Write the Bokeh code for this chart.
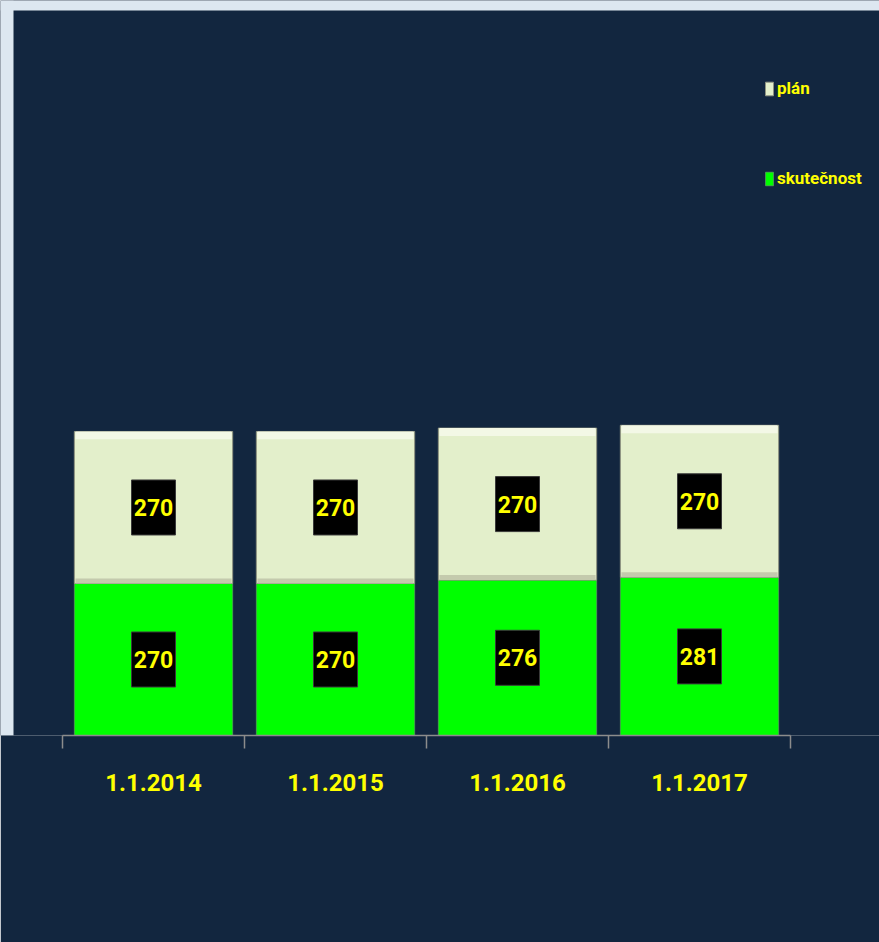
from bokeh.plotting import figure
from bokeh.models import Range1d, FixedTicker, Legend, LegendItem, ColumnDataSource, BoxAnnotation
from bokeh.core.properties import value
from bokeh.embed import file_html
from bokeh.resources import INLINE

# ---- data ----
categories = ["1.1.2014", "1.1.2015", "1.1.2016", "1.1.2017"]
skutecnost = [270, 270, 276, 281]
plan = [270, 270, 270, 270]
series_names = ["plán", "skutečnost"]

NAVY = "#12263F"
LIGHT = "#DDE7F0"
GREEN = "#00FF00"
PLAN_FILL = "#E3EFCB"
YELLOW = "#FFFF00"
FONT = "Roboto"

x = [i + 0.5 for i in range(len(categories))]
total = [s + q for s, q in zip(skutecnost, plan)]

src = ColumnDataSource(dict(
    x=x,
    s=skutecnost,
    p=plan,
    total=total,
    s_mid=[v / 2 for v in skutecnost],
    p_mid=[s + q / 2 for s, q in zip(skutecnost, plan)],
    s_lbl=[str(v) for v in skutecnost],
    p_lbl=[str(v) for v in plan],
    hi_bot=[t - 14 for t in total],
    lo_top=[s + 9 for s in skutecnost],
))

p = figure(width=879, height=942,
           x_range=Range1d(-0.3407, 4.489), y_range=Range1d(0, 1305.5),
           output_backend="svg", toolbar_location=None,
           y_axis_location=None,
           min_border_left=0, min_border_right=0,
           min_border_top=0, min_border_bottom=207)

p.background_fill_color = NAVY
p.border_fill_color = NAVY
p.outline_line_color = None
p.xgrid.visible = False
p.ygrid.visible = False

# light page strips around the dark panel
p.add_layout(BoxAnnotation(right=13, right_units="screen", fill_color=LIGHT,
                           fill_alpha=1, line_color=None, level="underlay"))
p.add_layout(BoxAnnotation(bottom=1287.7, fill_color=LIGHT, fill_alpha=1,
                           line_color=None, level="underlay"))

W = 0.87
r_s = p.vbar(x="x", bottom=0, top="s", width=W, source=src,
             fill_color=GREEN, line_color="#6f9a6f", line_width=0.6)
r_p = p.vbar(x="x", bottom="s", top="total", width=W, source=src,
             fill_color=PLAN_FILL, line_color="#8E9280", line_width=1)
# bevel shading on plan bars
p.vbar(x="x", bottom="hi_bot", top="total", width=W - 0.012, source=src,
       fill_color="#F3F8E6", line_color=None)
p.vbar(x="x", bottom="s", top="lo_top", width=W - 0.012, source=src,
       fill_color="#C4CAAD", line_color=None)

# label boxes
for ycol, tcol in (("s_mid", "s_lbl"), ("p_mid", "p_lbl")):
    p.rect(x="x", y=ycol, width=44, height=55, width_units="screen",
           height_units="screen", source=src, fill_color="black",
           line_color="#3a3a3a", line_width=1)
    p.text(x="x", y=ycol, text=tcol, source=src, text_color=YELLOW,
           text_font=value(FONT), text_font_style="bold",
           text_font_size="23px", text_align="center",
           text_baseline="middle")

# x axis: labels at centres, ticks at boundaries
ax = p.xaxis[0]
ax.bounds = (0, len(categories))
ax.ticker = FixedTicker(ticks=x, minor_ticks=list(range(len(categories) + 1)))
ax.major_label_overrides = {xv: c for xv, c in zip(x, categories)}
ax.major_tick_out = 0
ax.major_tick_in = 0
ax.minor_tick_out = 13
ax.minor_tick_in = 0
ax.minor_tick_line_color = "#8C8C8C"
ax.axis_line_color = "#8C8C8C"
ax.axis_line_width = 1.5
ax.minor_tick_line_width = 1.5
ax.major_label_standoff = 25
ax.major_label_text_color = YELLOW
ax.major_label_text_font = FONT
ax.major_label_text_font_style = "bold"
ax.major_label_text_font_size = "24px"

legend = Legend(items=[LegendItem(label=series_names[0], renderers=[r_p]),
                       LegendItem(label=series_names[1], renderers=[r_s])],
                location=(764, 545), orientation="vertical",
                spacing=66, padding=0, margin=0,
                glyph_width=10, glyph_height=17, label_height=24,
                label_standoff=3,
                label_text_color=YELLOW, label_text_font=FONT,
                label_text_font_style="bold", label_text_font_size="17px",
                background_fill_alpha=0, border_line_color=None)
p.add_layout(legend)

open("out.html", "w").write(file_html(p, INLINE))
